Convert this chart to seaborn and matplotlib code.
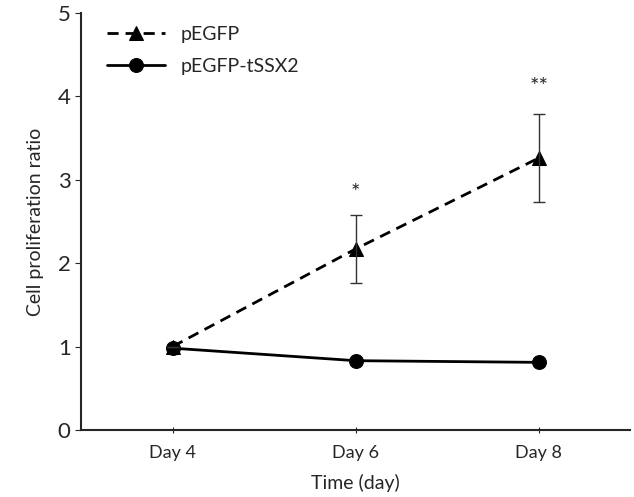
import pandas as pd
import numpy as np
import matplotlib.pyplot as plt
import seaborn as sns

# Data
days = ['Day 4', 'Day 6', 'Day 8']
pegfp = [1.00, 2.17, 3.26]
pegfp_err = [0.0, 0.41, 0.53]
tssx2 = [0.98, 0.83, 0.81]
stars = ['', '*', '**']
star_y = [0.0, 2.84, 4.11]

sns.set_style("ticks")
plt.rcParams['font.family'] = ['Lato', 'DejaVu Sans']

df = pd.DataFrame({
    'pos': list(range(len(days))) * 2,
    'ratio': pegfp + tssx2,
    'group': ['pEGFP'] * len(days) + ['pEGFP-tSSX2'] * len(days),
})

fig = plt.figure(figsize=(6.34, 4.97), dpi=100)
ax = fig.add_axes([0.128, 0.135, 0.866, 0.839])

sns.lineplot(data=df, x='pos', y='ratio', hue='group', style='group',
             palette=['black', 'black'],
             dashes={'pEGFP': (4, 2.5), 'pEGFP-tSSX2': ''},
             markers={'pEGFP': '^', 'pEGFP-tSSX2': 'o'},
             markersize=10, markeredgecolor='black', linewidth=2.0, ax=ax)

ax.errorbar(range(len(days)), pegfp, yerr=pegfp_err, fmt='none',
            ecolor='#333333', elinewidth=1, capsize=4, capthick=1)

for i, s in enumerate(stars):
    if s:
        ax.text(i, star_y[i], s, ha='center', va='center', fontsize=16)

ax.set_xlim(-0.5, 2.5)
ax.set_ylim(0, 5)
ax.set_xticks(range(len(days)))
ax.set_xticklabels(days, fontsize=13)
ax.set_yticks(range(6))
ax.tick_params(axis='y', labelsize=16, length=4, direction='out')
ax.tick_params(axis='x', length=4, direction='inout', pad=9)
ax.set_xlabel('Time (day)', fontsize=14, labelpad=9)
ax.set_ylabel('Cell proliferation ratio', fontsize=14, labelpad=10)
for side in ['top', 'right']:
    ax.spines[side].set_visible(False)
for side in ['left', 'bottom']:
    ax.spines[side].set_linewidth(1.5)

ax.legend(loc='upper left', bbox_to_anchor=(0.015, 1.01), frameon=False,
          fontsize=14, handlelength=3.0, handletextpad=0.8,
          labelspacing=0.75, title=None)

fig.savefig('out.png', dpi=100)
